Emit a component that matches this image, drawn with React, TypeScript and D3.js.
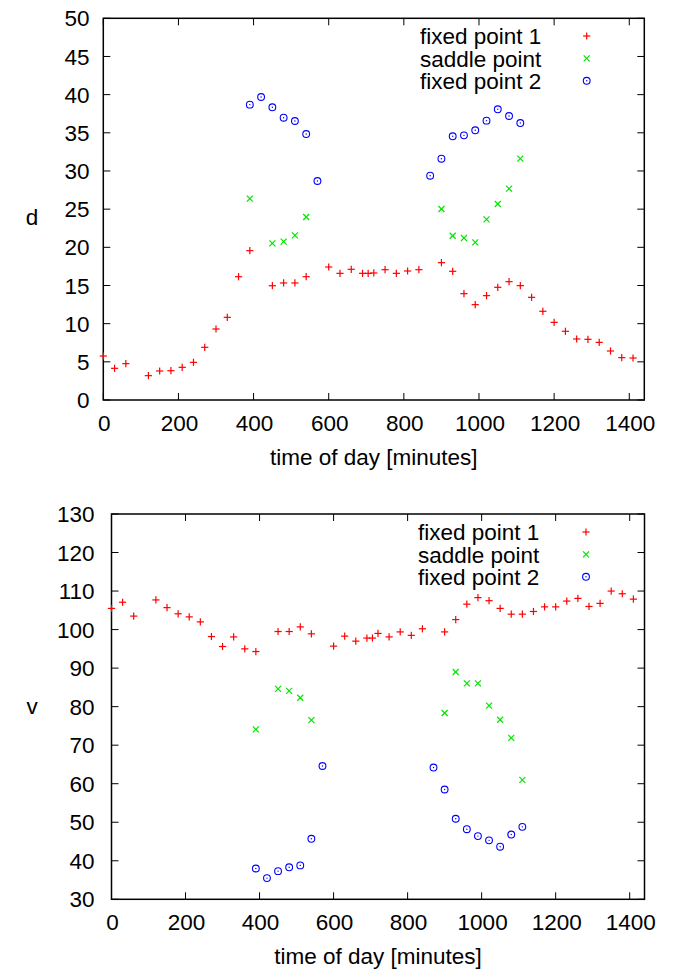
import React from "react";
import * as d3 from "d3";

// ---- data ----
const timesFP1 = [0, 30, 60, 120, 150, 180, 210, 240, 270, 300, 330, 360, 390, 450, 480, 510, 540, 600, 630, 660, 690, 705, 720, 750, 780, 810, 840, 900, 930, 960, 990, 1020, 1050, 1080, 1110, 1140, 1170, 1200, 1230, 1260, 1290, 1320, 1350, 1380, 1410];
const dFP1 = [5.76, 4.15, 4.76, 3.19, 3.8, 3.84, 4.28, 4.93, 6.9, 9.3, 10.83, 16.15, 19.56, 14.97, 15.33, 15.33, 16.15, 17.42, 16.59, 17.12, 16.59, 16.59, 16.64, 17.07, 16.59, 16.9, 17.07, 17.99, 16.86, 13.93, 12.49, 13.67, 14.76, 15.5, 14.98, 13.45, 11.62, 10.17, 9.0, 7.99, 7.95, 7.55, 6.42, 5.55, 5.5];
const vFP1 = [105.5, 107.1, 103.5, 107.7, 105.7, 104.1, 103.3, 102.0, 98.2, 95.6, 98.1, 95.0, 94.3, 99.5, 99.5, 100.7, 98.9, 95.7, 98.3, 97.0, 97.8, 97.8, 99.0, 98.1, 99.4, 98.5, 100.2, 99.4, 102.6, 106.6, 108.3, 107.5, 105.5, 104.0, 104.0, 104.7, 105.9, 105.9, 107.4, 108.1, 106.0, 106.8, 110.0, 109.3, 107.9];

const timesSaddle = [390, 450, 480, 510, 540, 900, 930, 960, 990, 1020, 1050, 1080, 1110];
const dSaddle = [26.37, 20.52, 20.74, 21.57, 23.97, 25.02, 21.52, 21.22, 20.65, 23.67, 25.67, 27.68, 31.61];
const vSaddle = [74.1, 84.6, 84.1, 82.3, 76.5, 78.35, 89.0, 86.06, 86.06, 80.25, 76.6, 71.9, 61.0];

const timesFP2 = [390, 420, 450, 480, 510, 540, 570, 870, 900, 930, 960, 990, 1020, 1050, 1080, 1110];
const dFP2 = [38.69, 39.69, 38.34, 36.98, 36.55, 34.84, 28.69, 29.38, 31.61, 34.54, 34.67, 35.33, 36.59, 38.08, 37.2, 36.28];
const vFP2 = [38.0, 35.5, 37.3, 38.3, 38.8, 45.7, 64.6, 64.2, 58.5, 50.9, 48.2, 46.4, 45.3, 43.65, 46.8, 48.8];

const xTicks = [0, 200, 400, 600, 800, 1000, 1200, 1400];
const dTicks = [0, 5, 10, 15, 20, 25, 30, 35, 40, 45, 50];
const vTicks = [30, 40, 50, 60, 70, 80, 90, 100, 110, 120, 130];
const seriesNames = ["fixed point 1", "saddle point", "fixed point 2"];
const xLabel = "time of day [minutes]";

const RED = "#ff0000";
const GREEN = "#00e600";
const BLUE = "#0000ff";
const FONT = "'Liberation Sans', Arial, Helvetica, sans-serif";
const FS = 22.5;

function Plus({ x, y }: { x: number; y: number }) {
  const s = 3.6;
  return (
    <g stroke={RED} strokeWidth={1.2}>
      <line x1={x - s} x2={x + s} y1={y} y2={y} />
      <line x1={x} x2={x} y1={y - s} y2={y + s} />
    </g>
  );
}
function Cross({ x, y }: { x: number; y: number }) {
  const s = 3;
  return (
    <g stroke={GREEN} strokeWidth={1.2}>
      <line x1={x - s} x2={x + s} y1={y - s} y2={y + s} />
      <line x1={x - s} x2={x + s} y1={y + s} y2={y - s} />
    </g>
  );
}
function Circ({ x, y }: { x: number; y: number }) {
  return (
    <g>
      <circle cx={x} cy={y} r={3.4} fill="none" stroke={BLUE} strokeWidth={1.1} />
      <circle cx={x} cy={y} r={0.7} fill={BLUE} />
    </g>
  );
}

type PanelProps = {
  left: number; right: number; top: number; bottom: number;
  yDomain: [number, number]; yTicks: number[]; yLabel: string;
  y1: number[]; y2: number[]; y3: number[];
  yTickRight: number; yLabelX: number; yLabelY: number;
  legendX: number; legendSymX: number; legendY: number;
};

function Panel(p: PanelProps) {
  const x = d3.scaleLinear().domain([0, 1440]).range([p.left, p.right]);
  const y = d3.scaleLinear().domain(p.yDomain).range([p.bottom, p.top]);
  const tl = 7;
  const lh = 22.4;
  return (
    <g fontFamily={FONT} fontSize={FS} fill="#000">
      <g stroke="#000" strokeWidth={1}>
        {xTicks.map((t) => (
          <g key={"xt" + t}>
            <line x1={x(t)} x2={x(t)} y1={p.bottom} y2={p.bottom - tl} />
            <line x1={x(t)} x2={x(t)} y1={p.top} y2={p.top + tl} />
          </g>
        ))}
        {p.yTicks.map((t) => (
          <g key={"yt" + t}>
            <line x1={p.left} x2={p.left + tl} y1={y(t)} y2={y(t)} />
            <line x1={p.right} x2={p.right - tl} y1={y(t)} y2={y(t)} />
          </g>
        ))}
      </g>
      <rect x={p.left} y={p.top} width={p.right - p.left} height={p.bottom - p.top} fill="none" stroke="#000" strokeWidth={1.5} />
      {xTicks.map((t) => (
        <text key={"xl" + t} x={x(t) + 1} y={p.bottom + 31} textAnchor="middle">{t}</text>
      ))}
      {p.yTicks.map((t) => (
        <text key={"yl" + t} x={p.yTickRight} y={y(t)} dy="0.36em" textAnchor="end">{t}</text>
      ))}
      <text x={(p.left + p.right) / 2} y={p.bottom + 65} textAnchor="middle">{xLabel}</text>
      <text x={p.yLabelX} y={p.yLabelY} textAnchor="middle">{p.yLabel}</text>
      {seriesNames.map((n, i) => (
        <text key={n} x={p.legendX} y={p.legendY + i * lh} dy="0.36em">{n}</text>
      ))}
      <Plus x={p.legendSymX} y={p.legendY} />
      <Cross x={p.legendSymX} y={p.legendY + lh} />
      <Circ x={p.legendSymX} y={p.legendY + 2 * lh} />
      {timesFP1.map((t, i) => <Plus key={"a" + i} x={x(t)} y={y(p.y1[i])} />)}
      {timesSaddle.map((t, i) => <Cross key={"b" + i} x={x(t)} y={y(p.y2[i])} />)}
      {timesFP2.map((t, i) => <Circ key={"c" + i} x={x(t)} y={y(p.y3[i])} />)}
    </g>
  );
}

export default function App() {
  return (
    <svg width={676} height={971} style={{ position: "absolute", left: 0, top: 0, background: "#fff" }}>
      <rect width={676} height={971} fill="#fff" />
      <Panel left={103.3} right={644.3} top={18.3} bottom={400} yDomain={[0, 50]} yTicks={dTicks} yLabel="d"
        y1={dFP1} y2={dSaddle} y3={dFP2} yTickRight={89.5} yLabelX={32} yLabelY={225}
        legendX={420} legendSymX={586.7} legendY={36} />
      <Panel left={111.5} right={644.5} top={514} bottom={899.3} yDomain={[30, 130]} yTicks={vTicks} yLabel="v"
        y1={vFP1} y2={vSaddle} y3={vFP2} yTickRight={94.5} yLabelX={32} yLabelY={714}
        legendX={418} legendSymX={586} legendY={532} />
    </svg>
  );
}
